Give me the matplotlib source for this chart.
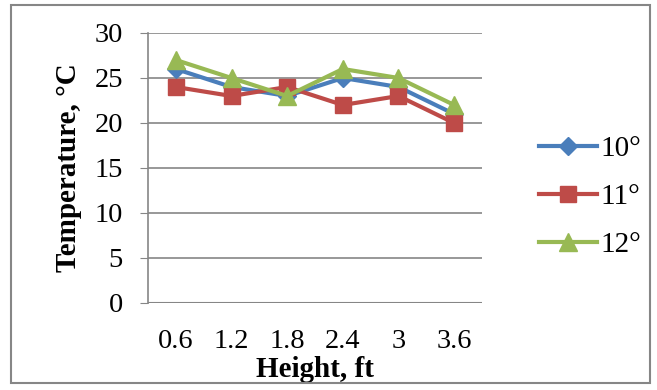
import matplotlib.pyplot as plt
import numpy as np
from matplotlib.patches import Rectangle

heights = ["0.6", "1.2", "1.8", "2.4", "3", "3.6"]
angles = ["10°", "11°", "12°"]
temp_10 = [26, 24, 23, 25, 24, 21]
temp_11 = [24, 23, 24, 22, 23, 20]
temp_12 = [27, 25, 23, 26, 25, 22]

plt.rcParams['font.family'] = ['Liberation Serif', 'DejaVu Serif']

fig = plt.figure(figsize=(6.57, 3.9), dpi=100)
ax = fig.add_axes([0.2253, 0.2231, 0.5083, 0.6923])

x = np.arange(len(heights))
ax.plot(x, temp_10, color="#4A7EBB", lw=3, marker="D", ms=9, label=angles[0])
ax.plot(x, temp_11, color="#BE4B48", lw=3, marker="s", ms=11, label=angles[1])
ax.plot(x, temp_12, color="#98B954", lw=3, marker="^", ms=13, label=angles[2])

ax.set_xlim(-0.5, len(heights) - 0.5)
ax.set_ylim(0, 30)
ax.set_yticks(range(0, 31, 5))
ax.set_xticks(x)
ax.set_xticklabels(heights)
ax.yaxis.grid(True, color="#868686", lw=1.2)
ax.set_axisbelow(True)
for s in ["top", "right", "bottom"]:
    ax.spines[s].set_visible(False)
ax.spines["left"].set_color("#868686")
ax.spines["left"].set_linewidth(1.2)
ax.axhline(0, color="#868686", lw=1.5, zorder=1)
ax.tick_params(axis="y", length=6, color="#868686", labelsize=20.5, pad=12)
ax.tick_params(axis="x", length=0, labelsize=20.5, pad=19)

ax.set_ylabel("Temperature, °C", fontsize=21, fontweight="bold", labelpad=9)
ax.set_xlabel("Height, ft", fontsize=21, fontweight="bold", labelpad=1)

fig.legend(loc="center left", bbox_to_anchor=(0.78, 0.495), frameon=False,
           fontsize=21, handlelength=2.0, labelspacing=0.75, handletextpad=0.1)

# outer chart border
fig.patches.append(Rectangle((0.016, 0.017), 0.973, 0.97, transform=fig.transFigure,
                             fill=False, edgecolor="#868686", lw=1.5))

fig.savefig("out.png", dpi=100)
